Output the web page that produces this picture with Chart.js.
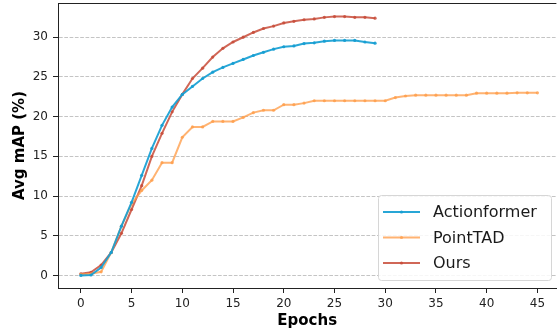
<!DOCTYPE html>
<html>
<head>
<meta charset="utf-8">
<script src="https://cdn.jsdelivr.net/npm/chart.js@4"></script>
<style>
  html, body { margin: 0; padding: 0; background: #fff; }
  #wrap { width: 558px; height: 330px; }
</style>
</head>
<body>
<div id="wrap"><canvas id="mapChart" width="558" height="330"></canvas></div>
<script>
// data
const actionformerEpochs = [0,1,2,3,4,5,6,7,8,9,10,11,12,13,14,15,16,17,18,19,20,21,22,23,24,25,26,27,28,29];
const actionformerMap = [0.0, 0.05, 1.0, 2.9, 6.2, 9.2, 12.6, 16.0, 18.9, 21.2, 22.8, 23.8, 24.8, 25.6, 26.2, 26.7, 27.2, 27.7, 28.1, 28.5, 28.8, 28.9, 29.2, 29.3, 29.5, 29.6, 29.6, 29.6, 29.4, 29.25];

const pointtadEpochs = [0,1,2,3,4,5,6,7,8,9,10,11,12,13,14,15,16,17,18,19,20,21,22,23,24,25,26,27,28,29,30,31,32,33,34,35,36,37,38,39,40,41,42,43,44,45];
const pointtadMap = [0.1, 0.2, 0.45, 2.9, 6.2, 9.0, 10.7, 12.0, 14.2, 14.2, 17.4, 18.7, 18.7, 19.4, 19.4, 19.4, 19.9, 20.5, 20.8, 20.8, 21.5, 21.5, 21.7, 22.0, 22.0, 22.0, 22.0, 22.0, 22.0, 22.0, 22.0, 22.4, 22.6, 22.7, 22.7, 22.7, 22.7, 22.7, 22.7, 22.95, 22.95, 22.95, 22.95, 23.0, 23.0, 23.0];

const oursEpochs = [0,1,2,3,4,5,6,7,8,9,10,11,12,13,14,15,16,17,18,19,20,21,22,23,24,25,26,27,28,29];
const oursMap = [0.2, 0.4, 1.3, 2.9, 5.3, 8.3, 11.3, 15.0, 17.9, 20.6, 22.8, 24.8, 26.1, 27.5, 28.6, 29.4, 30.0, 30.6, 31.1, 31.4, 31.8, 32.0, 32.2, 32.3, 32.5, 32.6, 32.6, 32.5, 32.5, 32.4];

const xTicks = [0, 5, 10, 15, 20, 25, 30, 35, 40, 45];
const yTicks = [0, 5, 10, 15, 20, 25, 30];

function toPoints(xs, ys) {
    return xs.map((x, i) => ({ x: x, y: ys[i] }));
}

function lineSet(label, xs, ys, color) {
    return {
        label: label,
        data: toPoints(xs, ys),
        borderColor: color,
        backgroundColor: color,
        borderWidth: 2,
        pointRadius: 1.6,
        pointHoverRadius: 1.6,
        pointBorderWidth: 0,
        tension: 0
    };
}

// top spine + legend in the lower right corner
const frameAndLegend = {
    id: "frameAndLegend",
    afterDraw(chart) {
        const c = chart.ctx;
        const a = chart.chartArea;
        c.save();
        c.strokeStyle = "#222";
        c.lineWidth = 1;
        c.beginPath();
        c.moveTo(a.left, a.top + 0.5);
        c.lineTo(a.right, a.top + 0.5);
        c.stroke();

        // legend
        const bx = 378, by = 195, bw = 173, bh = 85;
        c.fillStyle = "rgba(255,255,255,0.85)";
        c.strokeStyle = "#d6d6d6";
        c.beginPath();
        c.roundRect(bx + 0.5, by + 0.5, bw, bh, 3);
        c.fill();
        c.stroke();

        c.font = "16px 'DejaVu Sans'";
        c.textBaseline = "middle";
        chart.data.datasets.forEach((ds, i) => {
            const yy = by + 17 + i * 25.5;
            c.strokeStyle = ds.borderColor;
            c.lineWidth = 2;
            c.beginPath();
            c.moveTo(383, yy);
            c.lineTo(420, yy);
            c.stroke();
            c.fillStyle = ds.borderColor;
            c.beginPath();
            c.arc(401.5, yy, 1.6, 0, Math.PI * 2);
            c.fill();
            c.fillStyle = "#1a1a1a";
            c.fillText(ds.label, 433, yy + 1);
        });
        c.restore();
    }
};

let ctx = document.getElementById("mapChart").getContext("2d");

let mapChart = new Chart(ctx, {
    type: "line",
    data: {
        datasets: [
            lineSet("Actionformer", actionformerEpochs, actionformerMap, "rgba(22,158,210,0.92)"),
            lineSet("PointTAD", pointtadEpochs, pointtadMap, "rgba(255,158,74,0.78)"),
            lineSet("Ours", oursEpochs, oursMap, "rgba(200,76,58,0.85)")
        ]
    },
    options: {
        responsive: false,
        animation: false,
        layout: { padding: { top: 3, right: 0, left: 0, bottom: 0 } },
        plugins: {
            legend: { display: false },
            tooltip: { enabled: false }
        },
        scales: {
            x: {
                type: "linear",
                min: -2.25,
                max: 46.87,
                afterBuildTicks: (axis) => { axis.ticks = xTicks.map(v => ({ value: v })); },
                afterFit: (axis) => {
                    axis.height = 42;
                    axis.paddingLeft = 0;
                    axis.paddingRight = 0;
                },
                grid: {
                    drawOnChartArea: false,
                    drawTicks: true,
                    tickLength: 5,
                    tickColor: "#222"
                },
                border: { display: true, color: "#222" },
                ticks: {
                    color: "#222",
                    font: { family: "DejaVu Sans", size: 12 },
                    padding: 4,
                    maxRotation: 0
                },
                title: {
                    display: true,
                    text: "Epochs",
                    color: "#000",
                    font: { family: "DejaVu Sans", size: 15, weight: "bold" },
                    padding: { top: 2, bottom: 0 }
                }
            },
            y: {
                min: -1.585,
                max: 34.31,
                afterBuildTicks: (axis) => { axis.ticks = yTicks.map(v => ({ value: v })); },
                afterFit: (axis) => {
                    axis.width = 58;
                    axis.paddingTop = 0;
                    axis.paddingBottom = 0;
                },
                grid: {
                    color: "#c4c4c4",
                    lineWidth: 1,
                    tickLength: 5,
                    tickColor: "#222",
                    tickBorderDash: []
                },
                border: { display: true, color: "#222", dash: [3.7, 1.6] },
                ticks: {
                    color: "#222",
                    font: { family: "DejaVu Sans", size: 12 },
                    padding: 5
                },
                title: {
                    display: true,
                    text: "Avg mAP (%)",
                    color: "#000",
                    font: { family: "DejaVu Sans", size: 15, weight: "bold" },
                    padding: { top: 11, bottom: 2 }
                }
            }
        }
    },
    plugins: [frameAndLegend]
});
</script>
</body>
</html>
